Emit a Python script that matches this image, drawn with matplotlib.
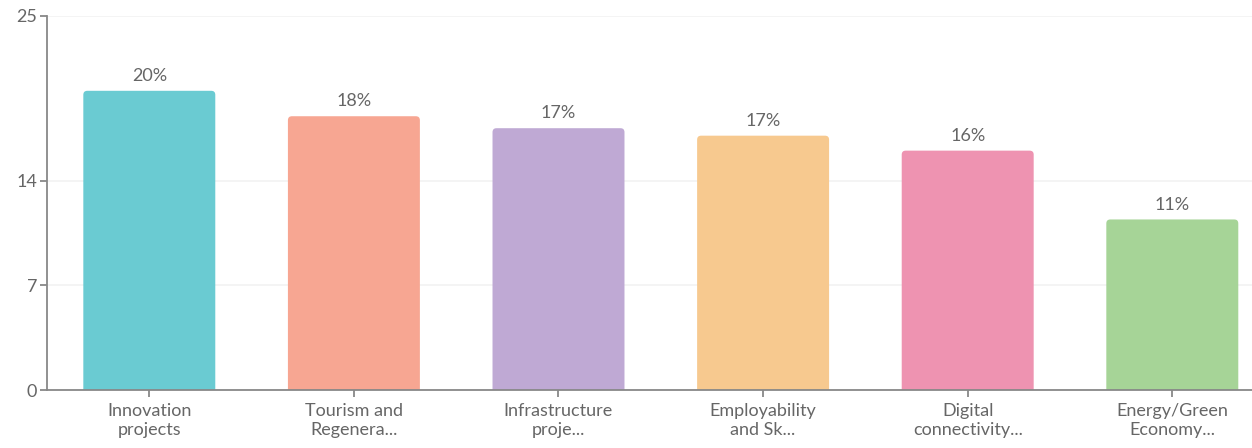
import matplotlib
matplotlib.use("Agg")
import matplotlib.pyplot as plt
from matplotlib.patches import FancyBboxPatch

categories = ["Innovation\nprojects", "Tourism and\nRegenera...", "Infrastructure\nproje...",
              "Employability\nand Sk...", "Digital\nconnectivity...", "Energy/Green\nEconomy..."]
values = [20.0, 18.3, 17.5, 17.0, 16.0, 11.4]
value_labels = ["20%", "18%", "17%", "17%", "16%", "11%"]
colors = ["#6ACBD2", "#F7A692", "#BFA9D4", "#F7C98F", "#EE93B1", "#A6D497"]
yticks = [0, 7, 14, 25]

plt.rcParams['font.family'] = ['Lato', 'DejaVu Sans']
text_color = "#666666"

fig = plt.figure(figsize=(12.52, 4.48), dpi=100)
ax = fig.add_axes([47/1252, 58/448, 1227.6/1252, 374/448])
ax.set_xlim(-0.5, len(categories) - 0.5)
ax.set_ylim(0, 25)

bar_w = 0.645
px_x = 1227.6 / 6
px_y = 374 / 25
r = 4 / px_x
aspect = px_x / px_y
for i, (v, c) in enumerate(zip(values, colors)):
    p = FancyBboxPatch((i - bar_w / 2, -1), bar_w, v + 1,
                       boxstyle=f"round,pad=0,rounding_size={r}",
                       mutation_aspect=aspect, facecolor=c, edgecolor="none",
                       zorder=2, clip_on=True)
    ax.add_patch(p)
    ax.annotate(value_labels[i], (i, v), xytext=(0, 5), textcoords="offset points",
                ha="center", va="bottom", fontsize=13, color=text_color)

ax.set_yticks(yticks)
ax.set_yticklabels([str(t) for t in yticks], fontsize=13, color=text_color)
ax.set_xticks(range(len(categories)))
ax.set_xticklabels(categories, fontsize=13, color=text_color, linespacing=1.25)
ax.grid(axis="y", color="#F2F2F2", linewidth=1.2, zorder=0)
ax.set_axisbelow(True)
for s in ["top", "right"]:
    ax.spines[s].set_visible(False)
for s in ["left", "bottom"]:
    ax.spines[s].set_color("#888888")
    ax.spines[s].set_linewidth(1.3)
    ax.spines[s].set_zorder(3)
ax.tick_params(axis="both", colors="#888888", length=5, width=1.3, labelcolor=text_color, pad=2)
ax.tick_params(axis="x", pad=4)

fig.savefig("out.png", dpi=100)
